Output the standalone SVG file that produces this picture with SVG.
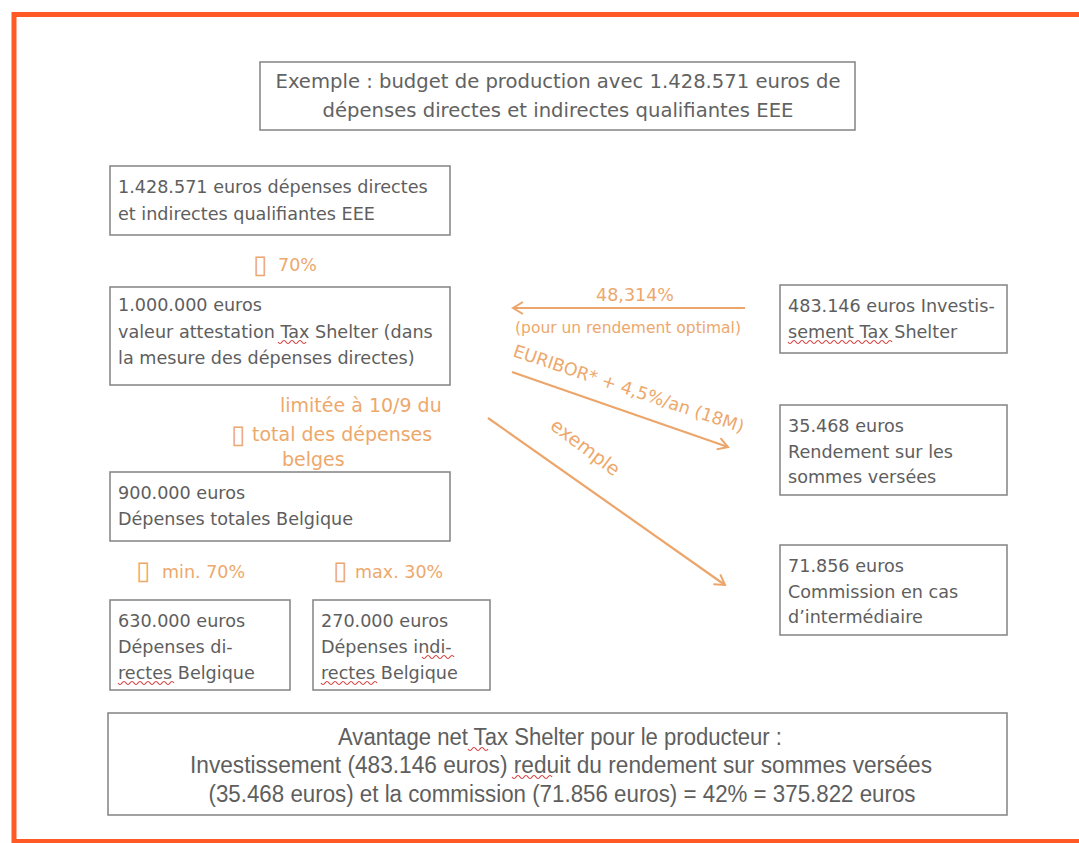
<svg xmlns="http://www.w3.org/2000/svg" width="1079" height="843" viewBox="0 0 1079 843">
<style>
  .box { fill: #ffffff; stroke: #8a8a8a; stroke-width: 1.6; }
  .t { font-family: "DejaVu Sans", Verdana, sans-serif; font-size: 17.6px; fill: #5e5e5e; }
  .title { font-family: "DejaVu Sans", Verdana, sans-serif; font-size: 19.6px; fill: #626262; text-anchor: middle; }
  .bot { font-family: "Liberation Sans", Arial, sans-serif; font-size: 23px; fill: #5e5e5e; text-anchor: middle; }
  .lbl { font-family: "DejaVu Sans", Verdana, sans-serif; font-size: 17.5px; fill: #eda86c; }
  .lbl2 { font-family: "DejaVu Sans", Verdana, sans-serif; font-size: 15.5px; fill: #eda86c; }
  .big { font-size: 19px; }
  .bk { font-family: "DejaVu Sans", sans-serif; font-size: 26px; fill: #eda86c; }
  .conn { stroke: #eca56a; stroke-width: 2.2; fill: none; }
  .sq { stroke: #d84040; stroke-width: 1.2; fill: none; }
</style>
<defs>
  <marker id="ah" markerWidth="14" markerHeight="14" refX="12" refY="7" orient="auto" markerUnits="userSpaceOnUse">
    <path d="M2,1 L12,7 L2,13" fill="none" stroke="#eca56a" stroke-width="2"/>
  </marker>
</defs>
<rect x="0" y="0" width="1079" height="843" fill="#ffffff"/>
<rect id="frame" x="14" y="14.5" width="1100" height="827" fill="none" stroke="#ff5a26" stroke-width="5"/>

<g id="title">
  <rect class="box" x="260" y="62" width="595" height="68"/>
  <text class="title" x="558" y="88">Exemple : budget de production avec 1.428.571 euros de</text>
  <text class="title" x="558" y="117">dépenses directes et indirectes qualifiantes EEE</text>
</g>

<g id="n-qualifiantes">
  <rect class="box" x="110" y="166" width="340" height="69"/>
  <text class="t" x="118" y="193">1.428.571 euros dépenses directes</text>
  <text class="t" x="118" y="220">et indirectes qualifiantes EEE</text>
</g>

<g id="n-attestation">
  <rect class="box" x="110" y="287" width="340" height="98"/>
  <text class="t" x="118" y="311">1.000.000 euros</text>
  <text class="t" x="118" y="338">valeur attestation Tax Shelter (dans</text>
  <text class="t" x="118" y="364">la mesure des dépenses directes)</text>
  <path class="sq" d="M278,342 q2,3 4,0 t4,0 t4,0 t4,0 t4,0 t4,0 t4,0"/>
</g>

<g id="n-belgique">
  <rect class="box" x="110" y="472" width="340" height="69"/>
  <text class="t" x="118" y="499">900.000 euros</text>
  <text class="t" x="118" y="525">Dépenses totales Belgique</text>
</g>

<g id="n-directes">
  <rect class="box" x="110" y="600" width="180" height="90"/>
  <text class="t" x="118" y="627">630.000 euros</text>
  <text class="t" x="118" y="653">Dépenses di-</text>
  <text class="t" x="118" y="679">rectes Belgique</text>
  <path class="sq" d="M118,683 q2,3 4,0 t4,0 t4,0 t4,0 t4,0 t4,0 t4,0 t4,0 t4,0 t4,0 t4,0 t4,0 t4,0 t4,0"/>
</g>

<g id="n-indirectes">
  <rect class="box" x="313" y="600" width="177" height="90"/>
  <text class="t" x="321" y="627">270.000  euros</text>
  <text class="t" x="321" y="653">Dépenses  indi-</text>
  <text class="t" x="321" y="679">rectes Belgique</text>
  <path class="sq" d="M422,657 q2,3 4,0 t4,0 t4,0 t4,0 t4,0 t4,0 t4,0 t4,0"/>
  <path class="sq" d="M321,683 q2,3 4,0 t4,0 t4,0 t4,0 t4,0 t4,0 t4,0 t4,0 t4,0 t4,0 t4,0 t4,0 t4,0 t4,0"/>
</g>

<g id="n-investissement">
  <rect class="box" x="780" y="285" width="227" height="68"/>
  <text class="t" x="788" y="312">483.146 euros Investis-</text>
  <text class="t" x="788" y="338">sement Tax Shelter</text>
  <path class="sq" d="M788,342 q2,3 4,0 t4,0 t4,0 t4,0 t4,0 t4,0 t4,0 t4,0 t4,0 t4,0 t4,0 t4,0 t4,0 t4,0 t4,0 t4,0 t4,0 t4,0 t4,0 t4,0 t4,0 t4,0 t4,0 t4,0 t4,0 t4,0"/>
</g>

<g id="n-rendement">
  <rect class="box" x="780" y="405" width="227" height="90"/>
  <text class="t" x="788" y="432">35.468 euros</text>
  <text class="t" x="788" y="458">Rendement sur les</text>
  <text class="t" x="788" y="483">sommes versées</text>
</g>

<g id="n-commission">
  <rect class="box" x="780" y="545" width="227" height="90"/>
  <text class="t" x="788" y="572">71.856 euros</text>
  <text class="t" x="788" y="598">Commission en cas</text>
  <text class="t" x="788" y="623">d’intermédiaire</text>
</g>

<g id="n-avantage">
  <rect class="box" x="108" y="713" width="899" height="102"/>
  <text class="bot" x="560" y="745" textLength="444" lengthAdjust="spacingAndGlyphs">Avantage net Tax Shelter pour le producteur :</text>
  <text class="bot" x="561" y="773" textLength="742" lengthAdjust="spacingAndGlyphs">Investissement (483.146 euros) reduit du rendement sur sommes versées</text>
  <text class="bot" x="562" y="802" textLength="707" lengthAdjust="spacingAndGlyphs">(35.468 euros) et la commission (71.856  euros) = 42% = 375.822 euros</text>
  <path class="sq" d="M468,749 q2,3 4,0 t4,0 t4,0 t4,0 t4,0"/>
  <path class="sq" d="M512,777 q2,3 4,0 t4,0 t4,0 t4,0 t4,0 t4,0 t4,0 t4,0 t4,0 t4,0"/>
</g>

<g id="labels">
  <text class="bk" x="253" y="273">▯</text>
  <text class="lbl" x="278" y="271">70%</text>
  <text class="lbl big" x="280" y="412">limitée à 10/9 du</text>
  <text class="bk" x="231" y="443">▯</text>
  <text class="lbl big" x="252" y="441">total des dépenses</text>
  <text class="lbl big" x="282" y="466">belges</text>
  <text class="bk" x="136" y="579">▯</text>
  <text class="lbl" x="162" y="578">min. 70%</text>
  <text class="bk" x="333" y="579">▯</text>
  <text class="lbl" x="355" y="578">max. 30%</text>
</g>

<g id="connectors">
  <line class="conn" x1="745" y1="308" x2="513" y2="308" marker-end="url(#ah)"/>
  <text class="lbl" x="635" y="301" text-anchor="middle">48,314%</text>
  <text class="lbl2" x="628" y="333" text-anchor="middle">(pour un rendement optimal)</text>
  <line class="conn" x1="512" y1="372" x2="728" y2="447" marker-end="url(#ah)"/>
  <text class="lbl" transform="translate(512,356) rotate(18.5)">EURIBOR* + 4,5%/an (18M)</text>
  <line class="conn" x1="488" y1="418" x2="725" y2="585" marker-end="url(#ah)"/>
  <text class="lbl big" transform="translate(549,428) rotate(37)">exemple</text>
</g>
</svg>
